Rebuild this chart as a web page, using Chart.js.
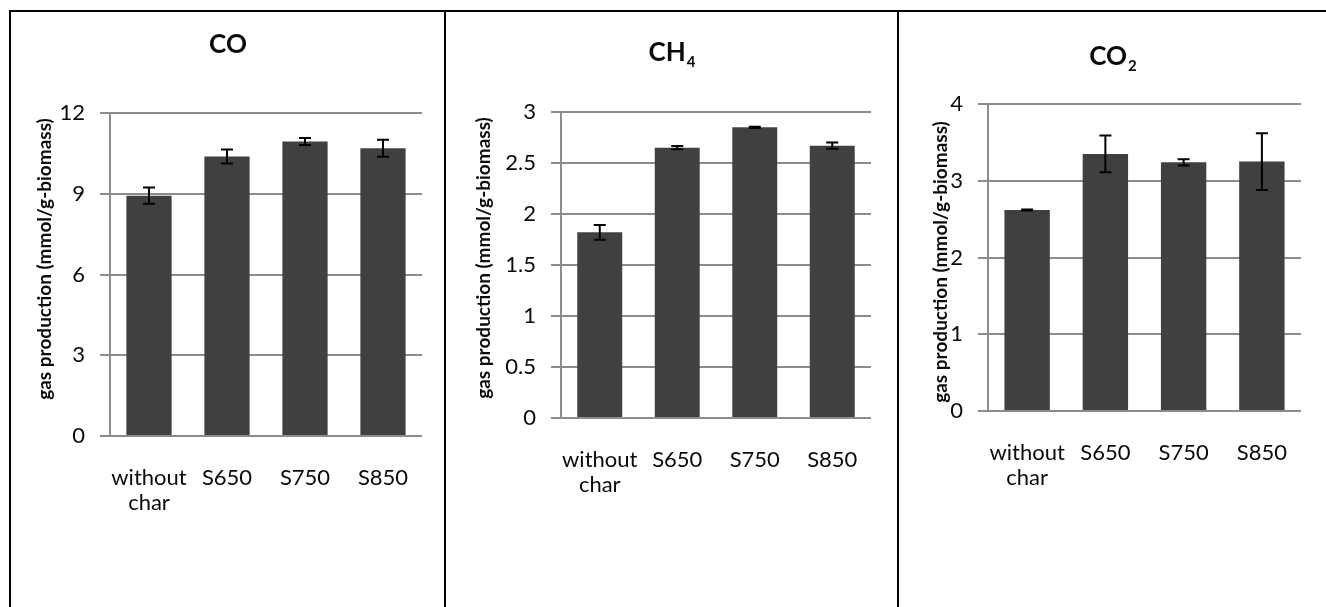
<!DOCTYPE html>
<html>
<head>
<meta charset="utf-8">
<title>Gas production</title>
<script src="https://cdn.jsdelivr.net/npm/chart.js@4.4.0/dist/chart.umd.min.js"></script>
<style>
  body { margin: 0; background: #fff; }
  #page { position: relative; width: 1326px; height: 607px; overflow: hidden; }
  .line { position: absolute; background: #000; }
  canvas { position: absolute; }
</style>
</head>
<body>
<div id="page">
  <div class="line" style="left:9px; top:10px; width:1317px; height:2px;"></div>
  <div class="line" style="left:9px; top:10px; width:2px; height:597px;"></div>
  <div class="line" style="left:444px; top:10px; width:2px; height:597px;"></div>
  <div class="line" style="left:897px; top:10px; width:2px; height:597px;"></div>
  <canvas id="chartCO"></canvas>
  <canvas id="chartCH4"></canvas>
  <canvas id="chartCO2"></canvas>
</div>
<script>
// Categories shared by all three panels
const categories = [['without', 'char'], 'S650', 'S750', 'S850'];

// CO
const coValues = [8.93, 10.38, 10.94, 10.69];
const coErrors = [0.30, 0.26, 0.13, 0.32];
const coTicks = [0, 3, 6, 9, 12];

// CH4
const ch4Values = [1.82, 2.65, 2.85, 2.67];
const ch4Errors = [0.072, 0.016, 0.006, 0.03];
const ch4Ticks = [0, 0.5, 1, 1.5, 2, 2.5, 3];

// CO2
const co2Values = [2.62, 3.35, 3.24, 3.25];
const co2Errors = [0.006, 0.24, 0.04, 0.37];
const co2Ticks = [0, 1, 2, 3, 4];

const yTitle = 'gas production (mmol/g-biomass)';

const FONT = 'Lato, "Open Sans", sans-serif';
const GRID = '#8c8c8c';
const BAR = '#404040';
const TEXT = '#0a0a0a';

// Panel layout (page pixels)
const panels = [
    {
        id: 'chartCO', title: 'CO', sub: '',
        values: coValues, errors: coErrors, ticks: coTicks,
        box: { left: 12, top: 13, width: 432, height: 594 },
        plot: { left: 110, right: 422, top: 113, bottom: 436 },
        titleBase: 53, axisTitle: { x: 45, y: 259 }
    },
    {
        id: 'chartCH4', title: 'CH', sub: '4',
        values: ch4Values, errors: ch4Errors, ticks: ch4Ticks,
        box: { left: 447, top: 13, width: 450, height: 594 },
        plot: { left: 561, right: 871, top: 112, bottom: 418 },
        titleBase: 61, axisTitle: { x: 484, y: 258 }
    },
    {
        id: 'chartCO2', title: 'CO', sub: '2',
        values: co2Values, errors: co2Errors, ticks: co2Ticks,
        box: { left: 900, top: 13, width: 426, height: 594 },
        plot: { left: 988, right: 1301, top: 104, bottom: 411 },
        titleBase: 65, axisTitle: { x: 941, y: 262 }
    }
];

// Error bars drawn from the dataset's errors array
const errorBars = {
    id: 'errorBars',
    afterDatasetsDraw(chart) {
        const ctx = chart.ctx;
        const ds = chart.data.datasets[0];
        const yScale = chart.scales.y;
        ctx.save();
        ctx.strokeStyle = '#000';
        ctx.lineWidth = 2;
        chart.getDatasetMeta(0).data.forEach((bar, i) => {
            const top = yScale.getPixelForValue(ds.data[i] + ds.errors[i]);
            const bottom = yScale.getPixelForValue(ds.data[i] - ds.errors[i]);
            ctx.beginPath();
            ctx.moveTo(bar.x, top);
            ctx.lineTo(bar.x, bottom);
            ctx.moveTo(bar.x - 6, top);
            ctx.lineTo(bar.x + 6, top);
            ctx.moveTo(bar.x - 6, bottom);
            ctx.lineTo(bar.x + 6, bottom);
            ctx.stroke();
        });
        ctx.restore();
    }
};

// Panel title (with subscript) and rotated y axis title
const panelText = {
    id: 'panelText',
    afterDraw(chart, args, opts) {
        const ctx = chart.ctx;
        ctx.save();
        ctx.fillStyle = TEXT;
        ctx.textBaseline = 'alphabetic';

        ctx.font = 'bold 26px ' + FONT;
        const mainW = ctx.measureText(opts.title).width;
        ctx.font = 'bold 15px ' + FONT;
        const subW = opts.sub ? ctx.measureText(opts.sub).width + 1 : 0;
        const x0 = chart.width / 2 - (mainW + subW) / 2;
        ctx.font = 'bold 26px ' + FONT;
        ctx.textAlign = 'left';
        ctx.fillText(opts.title, x0, opts.titleBase);
        if (opts.sub) {
            ctx.font = 'bold 15px ' + FONT;
            ctx.fillText(opts.sub, x0 + mainW + 1, opts.titleBase + 6);
        }

        ctx.translate(opts.axisX, opts.axisY);
        ctx.rotate(-Math.PI / 2);
        ctx.font = 'bold 19px ' + FONT;
        ctx.textAlign = 'center';
        ctx.textBaseline = 'middle';
        ctx.fillText(yTitle, 0, 0);
        ctx.restore();
    }
};

function makeChart(p) {
    const canvas = document.getElementById(p.id);
    canvas.width = p.box.width;
    canvas.height = p.box.height;
    canvas.style.left = p.box.left + 'px';
    canvas.style.top = p.box.top + 'px';

    const yWidth = p.plot.left - p.box.left;
    const xHeight = p.box.height - (p.plot.bottom - p.box.top);

    return new Chart(canvas, {
        type: 'bar',
        data: {
            labels: categories,
            datasets: [{
                data: p.values,
                errors: p.errors,
                backgroundColor: BAR,
                borderWidth: 0,
                categoryPercentage: 1,
                barPercentage: 0.58
            }]
        },
        options: {
            responsive: false,
            animation: false,
            layout: {
                padding: {
                    left: 0,
                    top: p.plot.top - p.box.top,
                    right: p.box.width - (p.plot.right - p.box.left),
                    bottom: 0
                }
            },
            plugins: {
                legend: { display: false },
                tooltip: { enabled: false },
                panelText: {
                    title: p.title,
                    sub: p.sub,
                    titleBase: p.titleBase - p.box.top,
                    axisX: p.axisTitle.x - p.box.left,
                    axisY: p.axisTitle.y - p.box.top
                }
            },
            scales: {
                x: {
                    grid: { display: false },
                    border: { display: false },
                    ticks: {
                        color: TEXT,
                        font: { family: FONT, size: 22, lineHeight: 1.14 },
                        padding: 21,
                        maxRotation: 0,
                        autoSkip: false
                    },
                    afterFit: s => { s.height = xHeight; }
                },
                y: {
                    min: p.ticks[0],
                    max: p.ticks[p.ticks.length - 1],
                    afterBuildTicks: s => { s.ticks = p.ticks.map(v => ({ value: v })); },
                    grid: { color: GRID, lineWidth: 2, tickLength: 10, drawTicks: true },
                    border: { display: true, color: GRID, width: 2 },
                    ticks: {
                        color: TEXT,
                        font: { family: FONT, size: 22 },
                        padding: 15,
                        callback: v => String(v)
                    },
                    afterFit: s => { s.width = yWidth; }
                }
            }
        },
        plugins: [errorBars, panelText]
    });
}

panels.forEach(makeChart);
</script>
</body>
</html>
